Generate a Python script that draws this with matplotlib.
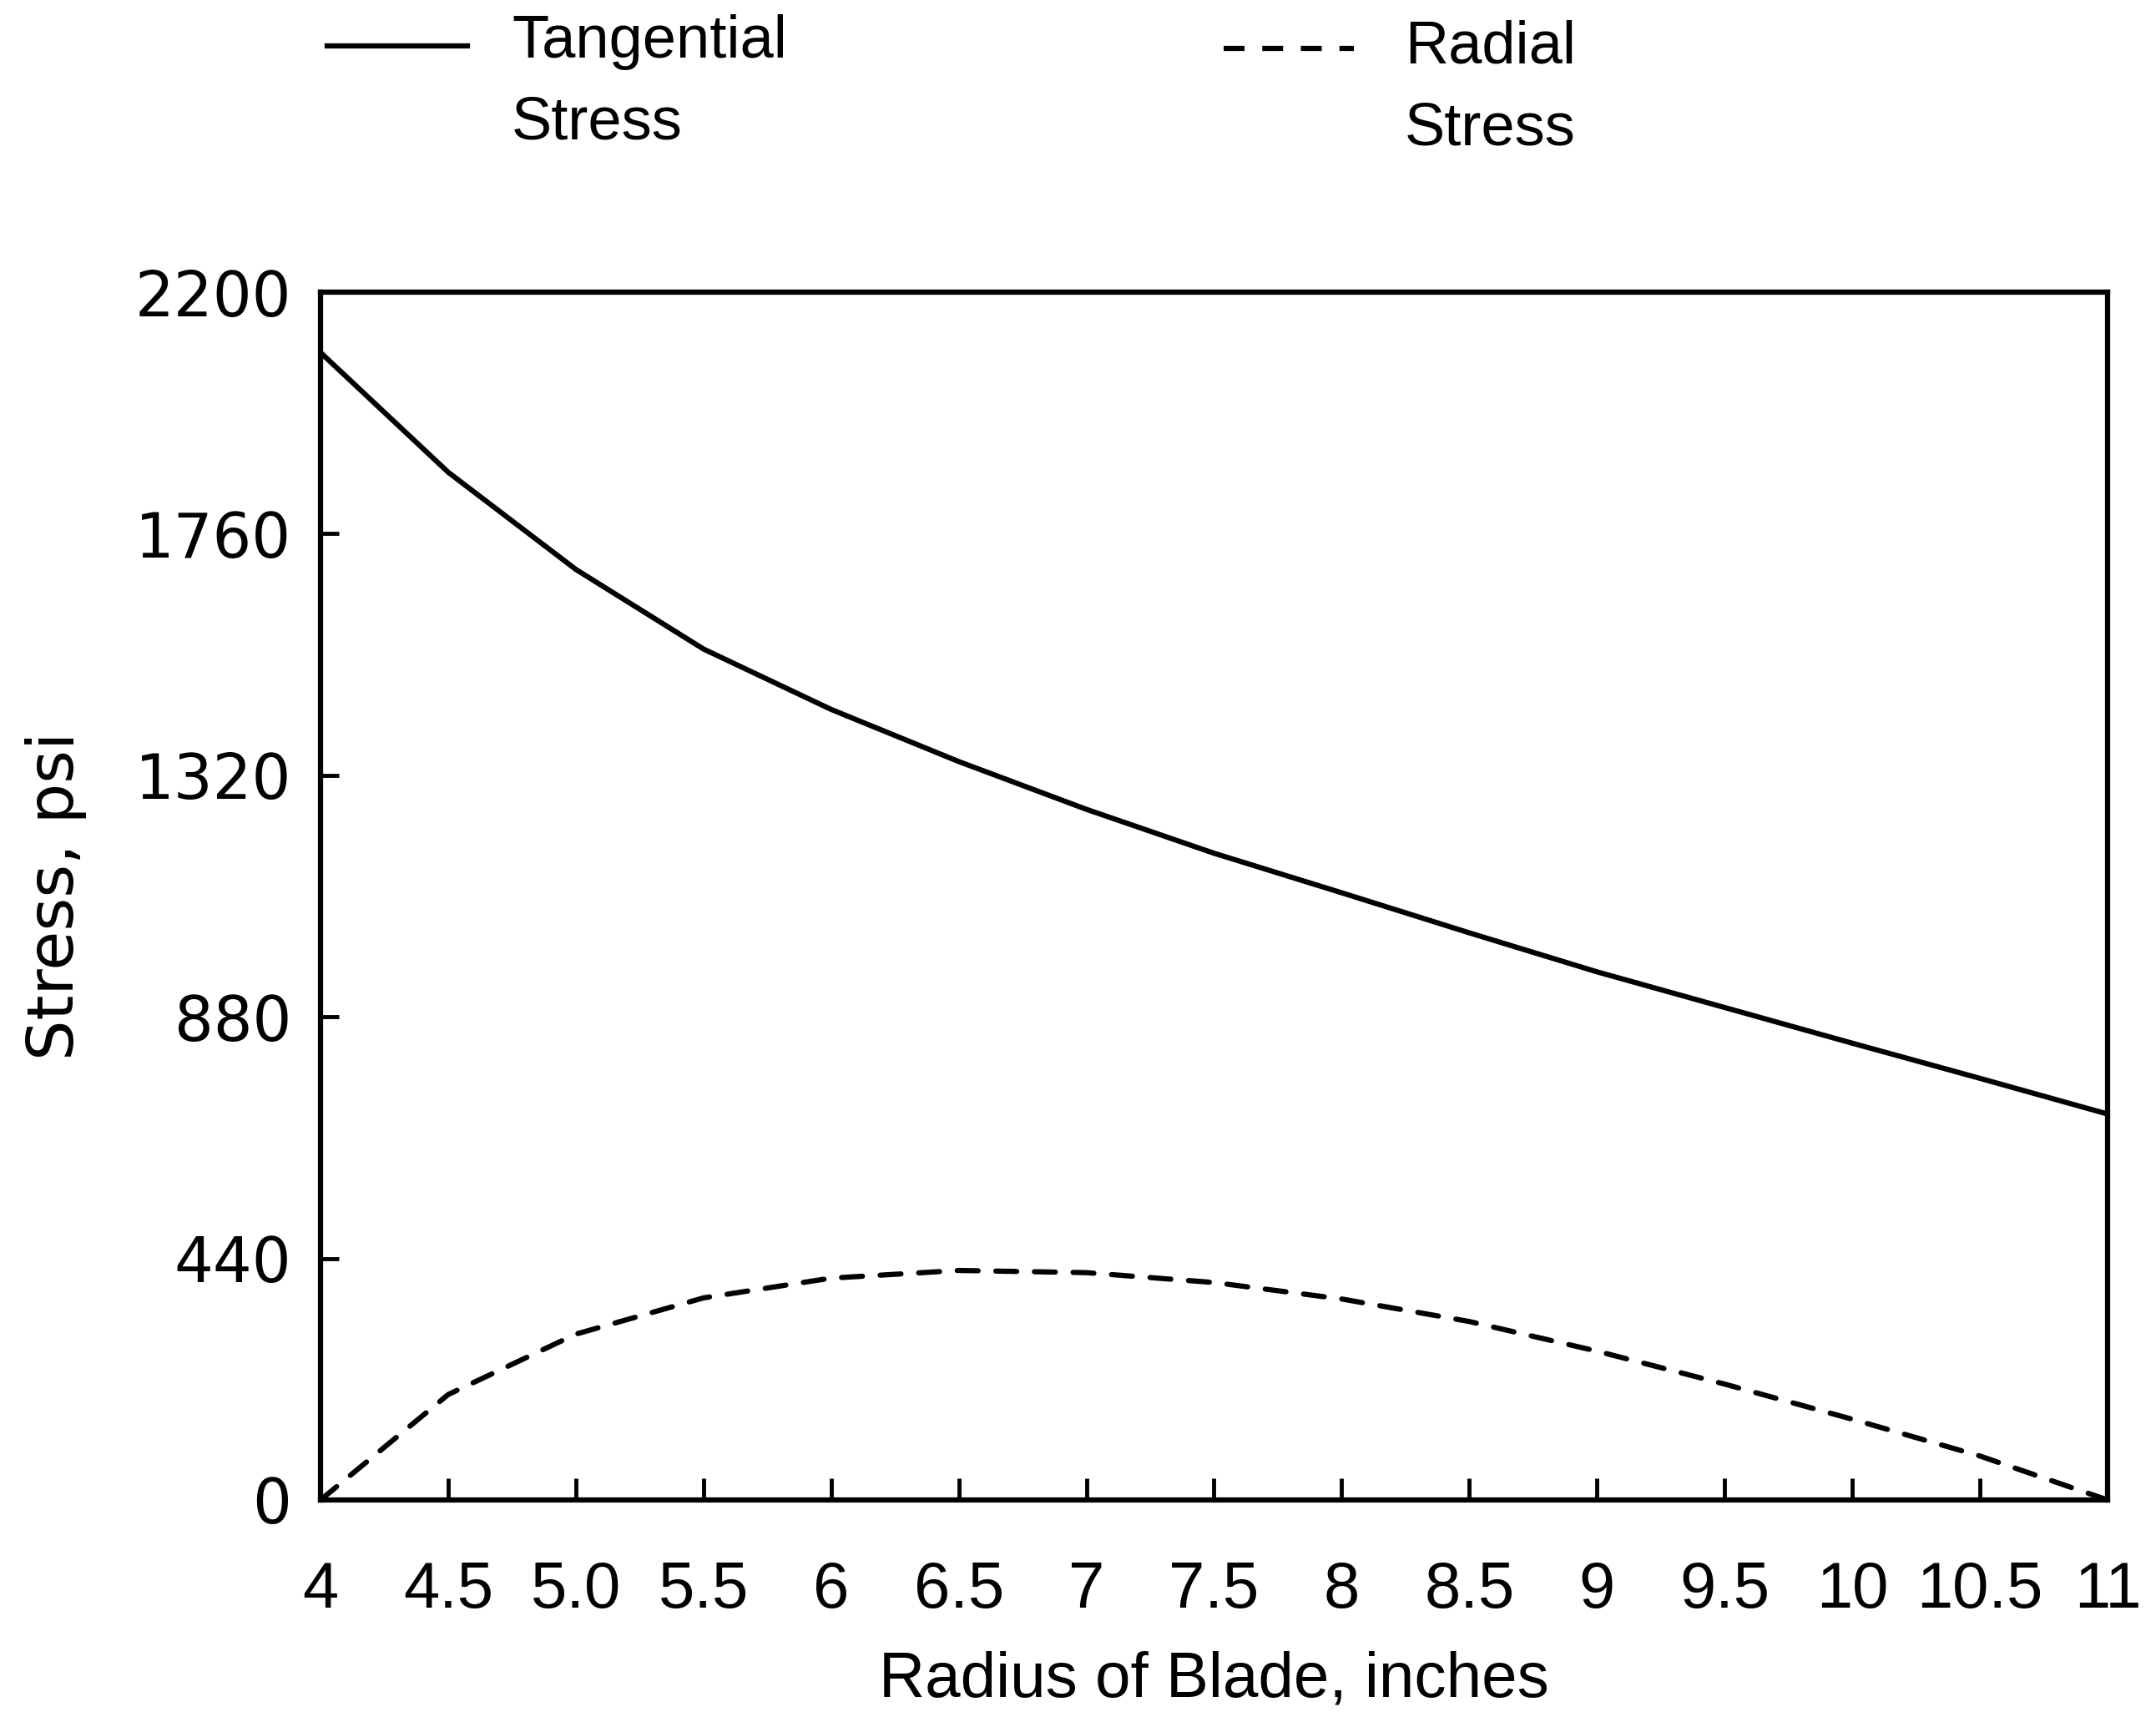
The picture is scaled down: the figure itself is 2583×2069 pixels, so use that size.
import matplotlib
matplotlib.use("Agg")
import matplotlib.pyplot as plt
from matplotlib.lines import Line2D

# Data
radius = [4, 4.5, 5.0, 5.5, 6, 6.5, 7, 7.5, 8, 8.5, 9, 9.5, 10, 10.5, 11]
tangential = [2090, 1872, 1695, 1550, 1440, 1345, 1258, 1178, 1106, 1033, 962, 897, 832, 768, 703]
radial = [0, 192, 302, 368, 404, 418, 414, 396, 366, 325, 271, 211, 147, 80, 0]

x_ticks = [4, 4.5, 5.0, 5.5, 6, 6.5, 7, 7.5, 8, 8.5, 9, 9.5, 10, 10.5, 11]
x_tick_labels = ['4', '4.5', '5.0', '5.5', '6', '6.5', '7', '7.5', '8', '8.5', '9', '9.5', '10', '10.5', '11']
y_ticks = [0, 440, 880, 1320, 1760, 2200]

LW = 4.5
DASH = (4.0, 3.4)
narrow = ['Liberation Sans Narrow', 'Liberation Sans', 'DejaVu Sans']
sans = ['Liberation Sans', 'DejaVu Sans']

fig = plt.figure(figsize=(25.83, 20.69), dpi=100)
ax = fig.add_axes([0.1487, 0.1315, 0.9775 - 0.1487, 0.8308 - 0.1315])

ax.plot(radius, tangential, color='black', lw=LW, solid_capstyle='round', solid_joinstyle='round')
ax.plot(radius, radial, color='black', lw=LW, linestyle=(0, DASH), dash_capstyle='round')

ax.set_xlim(4, 11)
ax.set_ylim(0, 2200)
ax.set_xticks(x_ticks)
ax.set_xticklabels(x_tick_labels, family=narrow, fontsize=56)
ax.set_yticks(y_ticks)
ax.set_yticklabels([str(v) for v in y_ticks], family='DejaVu Sans', fontsize=53)
ax.tick_params(axis='x', direction='in', length=19, width=3.5, pad=52)
ax.tick_params(axis='y', direction='in', length=16, width=3.5, pad=25)
for s in ax.spines.values():
    s.set_linewidth(LW)

ax.set_xlabel('Radius of Blade, inches', family=sans, fontsize=55)
ax.xaxis.set_label_coords(0.5, -0.125)
ax.set_ylabel('Stress, psi', family='DejaVu Sans', fontsize=55)
ax.yaxis.set_label_coords(-0.131, 0.5)

# legend across the top
fig.add_artist(Line2D([0.1518, 0.2168], [0.9734, 0.9734], color='black', lw=LW,
                      transform=fig.transFigure))
fig.text(0.2373, 0.992, 'Tangential\nStress', family=sans, fontsize=52, va='top', ha='left',
         linespacing=1.6)
fig.add_artist(Line2D([0.5675, 0.628], [0.972, 0.972], color='black', lw=LW,
                      linestyle=(0, DASH), transform=fig.transFigure))
fig.text(0.6516, 0.9885, 'Radial\nStress', family=sans, fontsize=52, va='top', ha='left',
         linespacing=1.6)

fig.savefig('out.png', dpi=100)
